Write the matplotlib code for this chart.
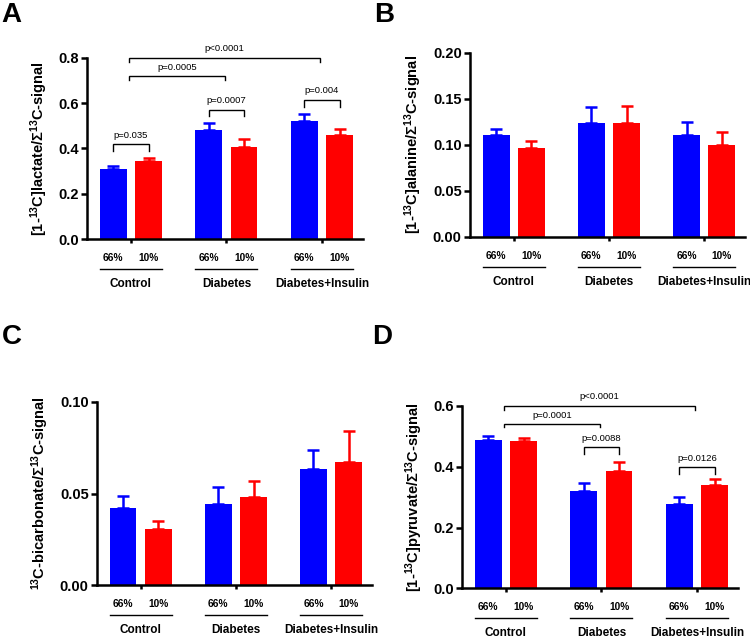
import matplotlib
matplotlib.use("Agg")
import matplotlib.pyplot as plt
from matplotlib.ticker import FormatStrFormatter, MultipleLocator
from matplotlib.transforms import offset_copy

plt.rcParams['font.family'] = ['Liberation Sans', 'DejaVu Sans']
plt.rcParams['font.weight'] = 'bold'
plt.rcParams['mathtext.fontset'] = 'custom'
plt.rcParams['mathtext.rm'] = 'Liberation Sans:bold'
plt.rcParams['mathtext.bf'] = 'Liberation Sans:bold'
plt.rcParams['mathtext.it'] = 'Liberation Sans:bold'
plt.rcParams['mathtext.default'] = 'rm'

# ---------------- data ----------------
groups = ["Control", "Diabetes", "Diabetes+Insulin"]
conc_labels = ["66%", "10%"]

lactate_66 = [0.311, 0.483, 0.523]
lactate_66_err = [0.012, 0.029, 0.029]
lactate_10 = [0.343, 0.406, 0.460]
lactate_10_err = [0.015, 0.036, 0.025]

alanine_66 = [0.111, 0.124, 0.111]
alanine_66_err = [0.006, 0.017, 0.014]
alanine_10 = [0.096, 0.124, 0.100]
alanine_10_err = [0.0076, 0.018, 0.014]

bicarb_66 = [0.042, 0.044, 0.0633]
bicarb_66_err = [0.0067, 0.0096, 0.0105]
bicarb_10 = [0.0305, 0.0482, 0.0671]
bicarb_10_err = [0.0044, 0.0085, 0.0171]

pyruvate_66 = [0.487, 0.321, 0.277]
pyruvate_66_err = [0.015, 0.027, 0.022]
pyruvate_10 = [0.485, 0.387, 0.339]
pyruvate_10_err = [0.008, 0.029, 0.021]

# p-value annotations: (text, (group,bar or None), (group,bar or None), top, leg_bottom)
lactate_p = [
    ("p=0.035", (0, 0), (0, 1), 0.42, 0.39),
    ("p=0.0007", (1, 0), (1, 1), 0.571, 0.542),
    ("p=0.004", (2, 0), (2, 1), 0.615, 0.584),
    ("p=0.0005", (0, None), (1, None), 0.718, 0.700),
    ("p<0.0001", (0, None), (2, None), 0.800, 0.781),
]
pyruvate_p = [
    ("p=0.0088", (1, 0), (1, 1), 0.465, 0.443),
    ("p=0.0126", (2, 0), (2, 1), 0.399, 0.376),
    ("p=0.0001", (0, None), (1, None), 0.541, 0.530),
    ("p<0.0001", (0, None), (2, None), 0.601, 0.588),
]

BLUE = "#0000FF"
RED = "#FF0000"
OFF = 0.185
WIDTH = 0.28

fig = plt.figure(figsize=(7.5, 6.4), dpi=100)


def xpos(spec):
    g, b = spec
    if b is None:
        return g - 0.02
    return g + (-OFF if b == 0 else OFF)


def panel(rect, v66, e66, v10, e10, ymax, step, fmt, ylabel, pvals=None):
    ax = fig.add_axes(rect)
    xs = list(range(len(groups)))
    x66 = [x - OFF for x in xs]
    x10 = [x + OFF for x in xs]
    ax.bar(x66, v66, width=WIDTH, color=BLUE, zorder=2)
    ax.bar(x10, v10, width=WIDTH, color=RED, zorder=2)
    ax.errorbar(x66, v66, yerr=[[0] * 3, e66], fmt='none', ecolor=BLUE,
                elinewidth=1.8, capsize=4.5, capthick=1.8, zorder=1)
    ax.errorbar(x10, v10, yerr=[[0] * 3, e10], fmt='none', ecolor=RED,
                elinewidth=1.8, capsize=4.5, capthick=1.8, zorder=1)
    ax.set_xlim(-0.46, 2.43)
    ax.set_ylim(0, ymax)
    ax.yaxis.set_major_locator(MultipleLocator(step))
    ax.yaxis.set_major_formatter(FormatStrFormatter(fmt))
    for s in ['top', 'right']:
        ax.spines[s].set_visible(False)
    for s in ['left', 'bottom']:
        ax.spines[s].set_linewidth(1.8)
    ax.tick_params(axis='y', width=1.8, length=4, labelsize=10.5, pad=2)
    ax.tick_params(axis='x', width=1.8, length=3, labelbottom=False)
    ax.set_xticks(xs)
    for lab in ax.get_yticklabels():
        lab.set_fontweight('bold')
    ax.set_ylabel(ylabel, fontsize=10.5, fontweight='bold', labelpad=6)

    tr = ax.get_xaxis_transform()
    tr_pct = offset_copy(tr, fig=fig, y=-19 * 0.72, units='points')
    tr_line = offset_copy(tr, fig=fig, y=-30 * 0.72, units='points')
    tr_grp = offset_copy(tr, fig=fig, y=-45 * 0.72, units='points')
    for i, g in enumerate(groups):
        ax.text(x66[i], 0, conc_labels[0], transform=tr_pct, ha='center', va='center',
                fontsize=7.3, fontweight='bold', clip_on=False)
        ax.text(x10[i], 0, conc_labels[1], transform=tr_pct, ha='center', va='center',
                fontsize=7.3, fontweight='bold', clip_on=False)
        ax.plot([x66[i] - WIDTH / 2, x10[i] + WIDTH / 2], [0, 0], transform=tr_line,
                color='black', lw=1.0, clip_on=False)
        ax.text(xs[i], 0, g, transform=tr_grp, ha='center', va='center',
                fontsize=8.5, fontweight='bold', clip_on=False)

    if pvals:
        for text, a, b, top, bot in pvals:
            x1, x2 = xpos(a), xpos(b)
            ax.plot([x1, x1, x2, x2], [bot, top, top, bot], color='black', lw=1.0,
                    clip_on=False, solid_joinstyle='miter')
            ax.annotate(text, ((x1 + x2) / 2, top), xytext=(0, 3), textcoords='offset points',
                        ha='center', va='bottom', fontsize=6.8, fontweight='normal',
                        annotation_clip=False)
    return ax


axA = panel([0.116, 0.626, 0.368, 0.284], lactate_66, lactate_66_err, lactate_10, lactate_10_err,
            0.8, 0.2, '%.1f', r"[1-$^{13}$C]lactate/Σ$^{13}$C-signal", lactate_p)
axB = panel([0.6267, 0.630, 0.3667, 0.2875], alanine_66, alanine_66_err, alanine_10, alanine_10_err,
            0.20, 0.05, '%.2f', r"[1-$^{13}$C]alanine/Σ$^{13}$C-signal")
axC = panel([0.1293, 0.0859, 0.3667, 0.286], bicarb_66, bicarb_66_err, bicarb_10, bicarb_10_err,
            0.10, 0.05, '%.2f', r"$^{13}$C-bicarbonate/Σ$^{13}$C-signal")
axD = panel([0.616, 0.0808, 0.368, 0.2849], pyruvate_66, pyruvate_66_err, pyruvate_10, pyruvate_10_err,
            0.6, 0.2, '%.1f', r"[1-$^{13}$C]pyruvate/Σ$^{13}$C-signal", pyruvate_p)

for letter, x, y in [("A", 0.002, 0.997), ("B", 0.499, 0.997), ("C", 0.002, 0.494), ("D", 0.496, 0.494)]:
    fig.text(x, y, letter, fontsize=20, fontweight='bold', ha='left', va='top')

fig.savefig("out.png", dpi=100)
